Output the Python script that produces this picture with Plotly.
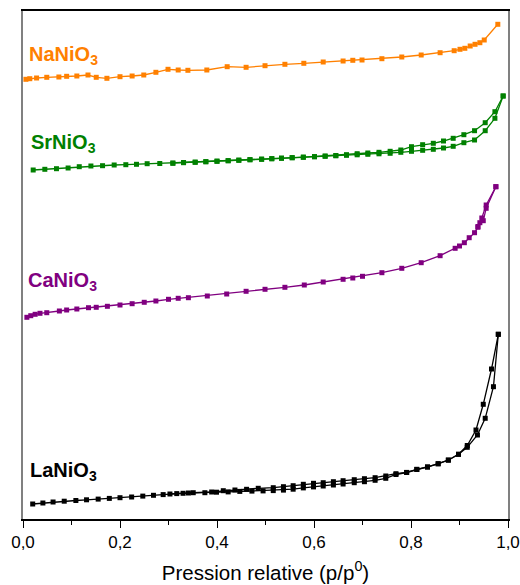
import plotly.graph_objects as go

# ---------------- data (relative pressure, arbitrary offset volume) ----------------
na_x = [0.006, 0.014, 0.028, 0.049, 0.074, 0.090, 0.111, 0.134, 0.151, 0.173, 0.200, 0.225, 0.249,
        0.274, 0.299, 0.320, 0.340, 0.379, 0.421, 0.460, 0.499, 0.540, 0.579, 0.619, 0.660, 0.680,
        0.699, 0.740, 0.781, 0.821, 0.860, 0.889, 0.901, 0.911, 0.922, 0.932, 0.942, 0.951, 0.979]
na_y = [439.7, 440.3, 441, 441.7, 442, 442.7, 443, 444, 441.7, 440.7, 442.3, 443, 444,
        446.7, 449.7, 449, 448.7, 449, 452.3, 451.7, 453.3, 454.7, 455.7, 457, 458, 458.7,
        459, 460.3, 462, 464, 466.3, 468.3, 469.7, 470.7, 473, 474.7, 476.3, 479, 494.7]

sr_ads_x = [0.021, 0.045, 0.069, 0.093, 0.116, 0.140, 0.164, 0.188, 0.212, 0.234, 0.256, 0.282,
            0.309, 0.331, 0.355, 0.377, 0.400, 0.423, 0.445, 0.468, 0.492, 0.513, 0.533, 0.555,
            0.578, 0.601, 0.623, 0.645, 0.667, 0.689, 0.711, 0.734, 0.757, 0.779, 0.801, 0.824,
            0.846, 0.867, 0.887, 0.909, 0.931, 0.953, 0.973, 0.990]
sr_ads_y = [349, 349.7, 350.3, 351, 352.3, 353, 353.3, 354, 354.3, 354.7, 355.3, 355.5,
            355.7, 356.3, 356.7, 357.2, 357.7, 358.2, 358.7, 359.2, 359.7, 360.2, 360.7, 361.2,
            361.7, 362.2, 362.7, 363.2, 363.7, 364.2, 364.7, 365.2, 365.7, 366.7, 367.7, 368.7,
            369.7, 371, 372.7, 376.3, 379, 388.3, 400.7, 423]
sr_des_x = [0.990, 0.973, 0.953, 0.931, 0.909, 0.887, 0.867, 0.846, 0.824, 0.801, 0.779, 0.757,
            0.734, 0.711, 0.689, 0.667, 0.645, 0.623, 0.601, 0.578, 0.555, 0.533, 0.513, 0.492,
            0.468, 0.445, 0.423, 0.400, 0.377, 0.355, 0.331, 0.309]
sr_des_y = [423, 407.3, 396.3, 388.3, 384.3, 380.7, 378, 375.7, 374.3, 372.3, 369, 367.7,
            366.7, 366, 365.3, 364.3, 363.5, 363, 362.4, 361.9, 361.4, 360.9, 360.4, 359.9,
            359.4, 358.9, 358.4, 357.9, 357.4, 356.9, 356.5, 356]

ca_ads_x = [0.008, 0.016, 0.025, 0.035, 0.049, 0.075, 0.090, 0.111, 0.135, 0.151, 0.174, 0.200,
            0.225, 0.250, 0.274, 0.300, 0.320, 0.341, 0.380, 0.420, 0.460, 0.499, 0.540, 0.580,
            0.619, 0.660, 0.680, 0.700, 0.740, 0.781, 0.821, 0.860, 0.891, 0.900, 0.910, 0.920,
            0.931, 0.938, 0.942, 0.949, 0.955, 0.975]
ca_ads_y = [201.7, 203.3, 204.7, 205.7, 206.3, 208, 209, 210, 211.3, 211.7, 212.7, 214,
            215.3, 216.7, 218, 219.7, 220.7, 221.3, 223, 225, 227.7, 229.7, 231.7, 234,
            237, 239.7, 241, 242.7, 246.3, 250.7, 256.3, 263.3, 270.7, 273, 276.3, 281.3,
            286.3, 291.7, 296.3, 298.3, 310.7, 332.3]
ca_des_x = [0.975, 0.955, 0.946, 0.938]
ca_des_y = [332.3, 314, 301, 292.5]

la_ads_x = [0.020, 0.041, 0.062, 0.085, 0.109, 0.131, 0.155, 0.178, 0.200, 0.224, 0.247, 0.269,
            0.289, 0.317, 0.341, 0.375, 0.399, 0.423, 0.447, 0.472, 0.495, 0.516, 0.537, 0.557,
            0.578, 0.599, 0.619, 0.640, 0.660, 0.683, 0.704, 0.726, 0.748, 0.769, 0.791, 0.812,
            0.834, 0.856, 0.877, 0.898, 0.916, 0.937, 0.953, 0.970, 0.980]
la_ads_y = [15, 16, 17, 17.8, 18.5, 19.2, 19.9, 20.6, 21.3, 22, 22.9, 23.7,
            24.4, 25.4, 26, 26.3, 26.8, 27.1, 27.6, 27.9, 28.1, 28.4, 28.9, 29.8,
            31.1, 32.1, 33, 34, 35, 36.3, 37.3, 38.7, 40.7, 44.5, 46.5, 49.5,
            52, 55.2, 59, 64.7, 71.7, 84, 100.7, 132.3, 184.7]
la_des_x = [0.980, 0.966, 0.949, 0.934, 0.916, 0.898, 0.877, 0.856, 0.834, 0.812, 0.791, 0.769,
            0.748, 0.726, 0.704, 0.683, 0.660, 0.640, 0.619, 0.599, 0.578, 0.557, 0.537, 0.516,
            0.485, 0.461, 0.437, 0.413, 0.389, 0.351, 0.330, 0.303]
la_des_y = [184.7, 150, 114.7, 89, 73.5, 64.7, 58.8, 55.3, 52, 49.7, 46.6, 45.3,
            43, 41.3, 40.3, 39.3, 38.3, 37.3, 36.3, 35.7, 34.7, 33.3, 32.3, 31.3,
            30.7, 29.7, 29, 28.3, 27, 26.3, 25.7, 25]

labels = ["NaNiO<sub>3</sub>", "SrNiO<sub>3</sub>", "CaNiO<sub>3</sub>", "LaNiO<sub>3</sub>"]
label_x = [0.008, 0.012, 0.006, 0.010]
label_y = [464, 376, 238, 47.5]
colors = ["#FF8000", "#008000", "#800080", "#000000"]

tick_vals = [0.0, 0.2, 0.4, 0.6, 0.8, 1.0]

# ---------------- figure ----------------
fig = go.Figure()

series = [
    (na_x, na_y, colors[0]),
    (sr_ads_x, sr_ads_y, colors[1]),
    (sr_des_x, sr_des_y, colors[1]),
    (ca_ads_x, ca_ads_y, colors[2]),
    (ca_des_x, ca_des_y, colors[2]),
    (la_ads_x, la_ads_y, colors[3]),
    (la_des_x, la_des_y, colors[3]),
]
for xs, ys, c in series:
    fig.add_trace(go.Scatter(
        x=xs, y=ys, mode="lines+markers",
        line=dict(color=c, width=1.3),
        marker=dict(symbol="square", size=5, color=c),
        showlegend=False, hoverinfo="skip",
    ))

for txt, lx, ly, c in zip(labels, label_x, label_y, colors):
    fig.add_annotation(
        x=lx, y=ly, xref="x", yref="y", text="<b>" + txt + "</b>",
        showarrow=False, xanchor="left", yanchor="middle",
        font=dict(family="Liberation Sans, Arial, sans-serif", size=20, color=c),
    )

fig.update_layout(
    width=520, height=585,
    margin=dict(l=23, r=12, t=11, b=66, autoexpand=False),
    paper_bgcolor="white", plot_bgcolor="white",
    separators=", ",
    font=dict(family="Liberation Sans, Arial, sans-serif", color="#000000"),
)
fig.update_xaxes(
    range=[0, 1], tickvals=tick_vals, tickformat=".1f",
    ticks="outside", ticklen=7, tickwidth=1.2, tickcolor="#000",
    minor=dict(dtick=0.1, tick0=0, ticks="outside", ticklen=4, tickcolor="#000"),
    showline=True, linecolor="#000", linewidth=1.5, mirror=True,
    showgrid=False, zeroline=False, automargin=False,
    tickfont=dict(size=17, color="#000"),
    title=dict(text="Pression relative (p/p<sup>0</sup>)", font=dict(size=20.5, color="#000"), standoff=14),
)
fig.update_yaxes(
    range=[0, 508], showticklabels=False, ticks="",
    showline=True, linecolor="#808080", linewidth=1.5, mirror=True,
    showgrid=False, zeroline=False, automargin=False,
)

fig.write_html(
    "out.html",
    config={"displayModeBar": False},
    post_script="document.body.style.margin='0';document.body.style.overflow='hidden';",
)
